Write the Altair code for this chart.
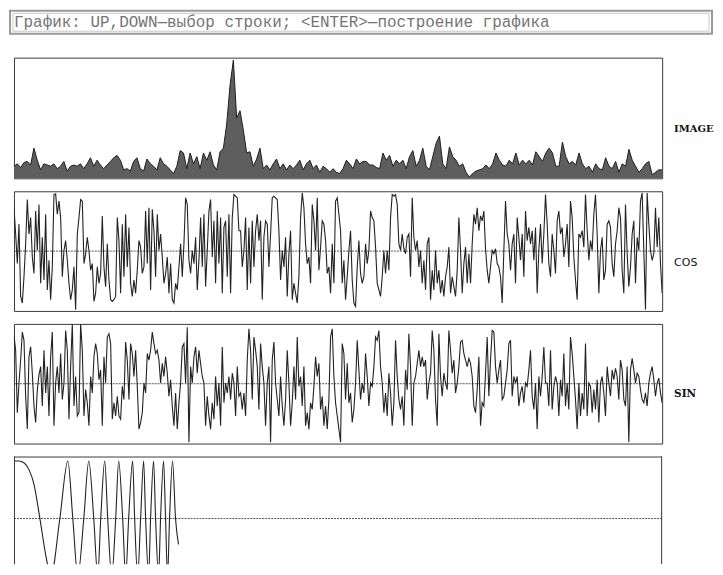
import altair as alt
import pandas as pd

HEADER = "График: UP,DOWN—выбор строки; <ENTER>—построение графика"
LABELS = ["IMAGE", "COS", "SIN"]

# IMAGE row intensity (0..100)
image_vals = [
    10, 12, 9, 13, 14, 11, 25, 15, 7, 12, 11, 10, 12, 8, 10, 14, 6, 10, 11, 10,
    12, 8, 12, 17, 10, 15, 11, 8, 11, 14, 17, 19, 15, 7, 8, 6, 14, 17, 8, 6,
    16, 12, 10, 7, 17, 12, 10, 7, 4, 10, 23, 21, 8, 21, 12, 18, 8, 21, 15, 22,
    11, 7, 22, 25, 45, 77, 98, 50, 56, 40, 21, 22, 10, 16, 25, 8, 11, 7, 12, 16,
    8, 12, 7, 11, 8, 11, 15, 7, 12, 15, 8, 11, 5, 10, 8, 5, 8, 5, 4, 8,
    15, 12, 8, 16,
    12, 14, 14, 11, 11, 9, 8, 21, 15, 19, 10, 15, 12, 15, 8, 18, 23, 10, 15, 25,
    10, 7, 18, 29, 35, 12, 8, 26, 18, 15, 10, 12, 5, 1, 4, 6, 7, 8, 11, 8,
    12, 21, 15, 11, 10, 15, 12, 21, 11, 15, 12, 15, 11, 22, 18, 14, 21, 25, 21, 10,
    10, 30, 18, 12, 14, 11, 21, 12, 8, 10, 5, 12, 8, 7, 17, 10, 8, 14, 5, 12,
    10, 24, 15, 10, 5, 8, 12, 14, 3, 5, 7, 7,
]

# COS row (amplitude units, -180..180)
cos_vals = [
    132, 52, -38, 82, -138, -158, -78, 22, 157, 52, 102, -18, -68, 122, 2, 142, -98, 42, -88, 112,
    -118, -28, -148, -48, 172, 174, 112, 152, 102, -78, 2, 32, -28, -98, -148, -118, -48, -178, 52, 102,
    157, 152, -38, -8, 42, 2, -58, -38, -153, -128, -48, -98, -68, 107, -48, -108, 22, -88, -148, -153,
    -148, -138, 102, 32, -128, 82, -78, 112, -48, 72, -98, -138, -88, -128, -58, 32, 12, -68, -48, 122,
    -38, 132, -118, 127, 62, -78, 112, 2, 52, -18, -98, -68, -18, -128, -38, -148, -158, -98, -118, -48,
    22, -78, 22, 162, 142, -28, -68, 2, -38, 42, -118, -28, 102, -48, 112, -108, 2, 122, 157, -18,
    92, -98, 122, -38, 102, -128, 72, 92, -78, 112, -128, 102, 172, 167, 162, 62,
    62, -48, 2, 102, -118, 72, -98, 92, -48, 62, 112, 32, 92, -148, 42, 92, 82, -48, 52, 162,
    167, 162, 157, 62, -88, 2, -48, 42, -138, -8, 62, -148, -98, -128, -158, -78, 102, 177, 132, 22,
    -38, -18, -98, 142, 92, 2, 162, -58, 12, 92, 82, 32, -68, -48, -128, 22, -98, 152, 162, 112,
    62, -98, -28, -148, -78, 2, 62, -88, -158, -168, -48, 32, -68, -98, -78, 22, -38, 2, 122, 102,
    92, 12, -98, -118, -138, -78, 2, -68, 2, -58, 102, 172, 167, 172, 142, 22, 2, 52, 7, -8,
    42, 52, -78, 162, 42, 2, 32, -48, 2, -98, -28, -118, 22, 42, -148, -58, -118, 2, -98, -58,
    -128, -88, -138, -78, -48, 12, -128, -78, -108, -138, -58, 102, 2, -128, -38, 12, -98, -8, -98,
    22, 112, 82, 132, 62, 107, 92, 122, 7, -58, -98, -48, 2, -8, 7, -38, -48, -78, -158,
    2, 152, 52, 22, -58, 22, 52, -98, 102, 42, -28, 52, -78, 122, 32, 72, 22, 62, -28, 72,
    -128, 2, 82, -38, 52, 172, 82, -38, -78, 52, 2, -68, 92, 122, 52, 72, -18, 22, 82, -48,
    152, 102, -18, -88, -148, 52, 42, 62, 12, 172, 62, -28, 32, 2, 112, 172, 52, -128, 2, 42,
    -88, -58, 82, 92, 72, -38, -78, 22, 62, 132, 102, -58, -128, 142, -8, -108, -48, 52, 92, -98,
    42, 2, 152, 177, 2, -178, 177, 82, 2, -28, -8, 132, 12, 102, -38, -128,
]

# SIN row (amplitude units, -180..180)
sin_vals = [
    147, 102, -88, 2, 72, 157, 132, -38, -138, 82, 112, 32, -68, -118, -18, 27, 52, -68, 102, -28,
    52, -98, 82, 157, -128, 2, 52, -28, 92, -48, 2, 162, 102, -108, 52, 182, -68, 22, -98, -88,
    182, 102, -98, -18, -58, -128, 22, -28, 82, 122, 92, 12, 42, -128, 82, 2, 142, 152, 122, -108,
    -58, -98, -38, -98, -108, -8, -48, 127, 72, -48, 122, 92, 22, 102, -8, -138, -118, -88, 2, -28,
    92, 72, 102, 157, 122, 92, 102, 72, 2, 62, 22, 82, 32, -38, 12, -68, -128, -28, -138, -58,
    2, 112, 122, 2, 172, -178, 52, 2, 82, 112, 32, 102, 62, 22, 2, -128, -38, -98, -138, -58,
    -108, 22, -68, 2, -128, 112, -58, 2, -28, 22, -48, 32, 2, -98, 52, -38, -28,
    -78, -28, -98, 72, 167, 102, -48, 142, 102, 52, -78, 122, 52, 2, -128, 2, 52, -178, 72, 127,
    2, -48, -98, 22, -68, -128, -48, 102, 2, -128, -58, 52, -48, 142, -8, 22, -68, 52, -128, -88,
    -138, -58, -78, -8, 82, 22, 62, -78, -38, -128, -68, -138, -48, 142, 167, 22, -58, -98, -138, -178,
    122, 92, -48, 62, -58, -28, -118, -78, 2, 132, 42, -48, 2, -28, 92, 22, -68, 2, -8, 52,
    142, 132, 162, 52, 2, -88, -28, -98, 32, -28, -128, -58, 132, 22, -48, -78, -38, -128, 42, -18,
    152, 52, -128, 2, 22, 62, 102, 52, 82, 52, 72, -48, 2, 32, 162, 102, -48, -128, 152, 22,
    -38, 32, 2, -18, 162, 102, 32, 72, -28, 2, 52, 127, 132, 92, 72, 52, 77, 62,
    22, -68, -88, -18, 82, -128, -58, -68, 32, 142, -38, 72, 162, 157, 52, 2, 42, 72, -48, -38,
    2, 42, 122, 132, -38, 22, 2, 22, -68, -28, -8, -58, 2, -8, 42, 102, -38, -78, 2, -138,
    22, -38, 22, 112, 2, 2, -68, 102, -78, -8, 22, 2, -98, 12, -38, 92, -68, 2, -78, 142,
    92, 22, -48, -138, 2, -98, -28, -78, 122, -98, 2, -8, -88, -18, -78, 12, -118, 2, 22, -28,
    -98, 52, 2, -38, 42, 12, 47, 22, -48, 72, 42, -48, -68, 52, -178, 42, 77, 42, 2, 32,
    22, -18, -48, -58, -28, -68, 2, 32, 52, 12, -38, 2, 17, -28, -58,
]

# chirp test signal (time sample, value)
chirp_t = [0, 5, 10, 15, 20, 26, 32, 37, 46, 54, 59, 64, 70, 75, 80, 84, 87, 91, 94, 98,
           102, 105, 109, 112, 115, 119, 121, 124, 127, 130, 132, 135, 137, 140, 142, 145,
           147, 150, 152, 154, 156, 159, 162, 165]
chirp_v = [1.0, 1.0, 0.97, 0.85, 0.6, 0.0, -0.65, -1.0, 0.0, 1.0, 0.0, -1.0, 0.0, 1.0, 0.0, -1.0,
           0.0, 1.0, 0.0, -1.0, 0.0, 1.0, 0.0, -1.0, 0.0, 1.0, 0.0, -1.0, 0.0, 1.0, 0.0, -1.0,
           0.0, 1.0, 0.0, -1.0, 0.0, 1.0, 0.0, -1.0, 0.0, 1.0, 0.0, -0.45]

W = 650
LINE = "#222222"
FRAME_COLOR = "#3a3a3a"
FRAME = alt.ViewBackground(stroke=FRAME_COLOR, strokeWidth=1, fill="white")
ONE = pd.DataFrame({"d": [0]})


def idx_df(vals):
    return pd.DataFrame({"i": list(range(len(vals))), "v": vals})


def spacer():
    # invisible 5px left margin, so that the panels sit right of the header box
    return alt.Chart(ONE).mark_rule(strokeOpacity=0, stroke="white").encode(
        x=alt.value(-5), x2=alt.value(0), y=alt.value(1)
    )


def label(txt, font, weight, size, ypos):
    return alt.Chart(pd.DataFrame({"label": [txt]})).mark_text(
        align="left", baseline="middle", font=font, fontSize=size, fontWeight=weight, color="#111"
    ).encode(text="label:N", x=alt.value(662), y=alt.value(ypos))


# Header box, drawn above the first panel
hdf = pd.DataFrame({"text": [HEADER]})
box = alt.Chart(hdf).mark_rect(fill="white", stroke="#9a9a9a", strokeWidth=2).encode(
    x=alt.value(-4), x2=alt.value(700), y=alt.value(-47), y2=alt.value(-24)
)
inner = alt.Chart(hdf).mark_rect(fillOpacity=0, stroke="#c8c8c8", strokeWidth=1).encode(
    x=alt.value(-1), x2=alt.value(697), y=alt.value(-44.5), y2=alt.value(-26.5)
)
htxt = alt.Chart(hdf).mark_text(
    align="left", baseline="middle", font="Liberation Mono", fontSize=16, color="#747474"
).encode(text="text:N", x=alt.value(0), y=alt.value(-35.5))

# IMAGE panel
n_img = len(image_vals)
ximg = alt.X("i:Q", axis=None, scale=alt.Scale(domain=[0, n_img - 1], nice=False, zero=False))
yimg = alt.Y("v:Q", axis=None, scale=alt.Scale(domain=[0, 100], nice=False))
img_area = alt.Chart(idx_df(image_vals)).mark_area(color="#5e5e5e", clip=True).encode(x=ximg, y=yimg)
img_line = alt.Chart(idx_df(image_vals)).mark_line(color="#1e1e1e", strokeWidth=1, clip=True).encode(x=ximg, y=yimg)
p1 = alt.layer(
    box, inner, htxt, img_area, img_line, label(LABELS[0], "DejaVu Serif", "bold", 10, 72)
).properties(width=W, height=121, view=FRAME)


def wave_panel(vals, lab, font, weight, size, ypos):
    n = len(vals)
    x = alt.X("i:Q", axis=None, scale=alt.Scale(domain=[0, n - 1], nice=False, zero=False))
    ysc = alt.Scale(domain=[-182, 182], nice=False)
    ln = alt.Chart(idx_df(vals)).mark_line(color=LINE, strokeWidth=1.1, clip=True).encode(
        x=x, y=alt.Y("v:Q", axis=None, scale=ysc)
    )
    zr = alt.Chart(pd.DataFrame({"v": [0]})).mark_rule(
        color="#555", strokeWidth=1, strokeDash=[2, 1]
    ).encode(y=alt.Y("v:Q", axis=None, scale=ysc))
    return alt.layer(spacer(), zr, ln, label(lab, font, weight, size, ypos)).properties(
        width=W, height=120, view=FRAME
    )


p2 = wave_panel(cos_vals, LABELS[1], "DejaVu Sans", "normal", 11, 72)
p3 = wave_panel(sin_vals, LABELS[2], "DejaVu Serif", "bold", 10.5, 70)

# chirp panel (runs off the bottom of the screen: no bottom border)
H4 = 108
cdf = pd.DataFrame({"t": chirp_t, "v": chirp_v})
csc = alt.Scale(domain=[-0.794, 1.078], nice=False)
xc = alt.X("t:Q", axis=None, scale=alt.Scale(domain=[0, 650], nice=False, zero=False))
c_line = alt.Chart(cdf).mark_line(color=LINE, strokeWidth=1.1, interpolate="monotone", clip=True).encode(
    x=xc, y=alt.Y("v:Q", axis=None, scale=csc)
)
c_zero = alt.Chart(pd.DataFrame({"v": [0.0]})).mark_rule(
    color="#555", strokeWidth=1, strokeDash=[2, 1]
).encode(y=alt.Y("v:Q", axis=None, scale=csc))
f_top = alt.Chart(ONE).mark_rule(color=FRAME_COLOR, strokeWidth=1).encode(
    x=alt.value(0), x2=alt.value(W), y=alt.value(0.5)
)
f_left = alt.Chart(ONE).mark_rule(color=FRAME_COLOR, strokeWidth=1).encode(
    x=alt.value(0.5), y=alt.value(0), y2=alt.value(H4)
)
f_right = alt.Chart(ONE).mark_rule(color=FRAME_COLOR, strokeWidth=1).encode(
    x=alt.value(W - 0.5), y=alt.value(0), y2=alt.value(H4)
)
p4 = alt.layer(spacer(), c_zero, c_line, f_top, f_left, f_right).properties(
    width=W, height=H4, view=alt.ViewBackground(stroke="transparent", fill="white")
)

chart = alt.vconcat(p1, p2, p3, p4, spacing=11).properties(padding=0).configure(
    background="white"
)

chart.save("out.html", embed_options={"renderer": "svg", "actions": False})
